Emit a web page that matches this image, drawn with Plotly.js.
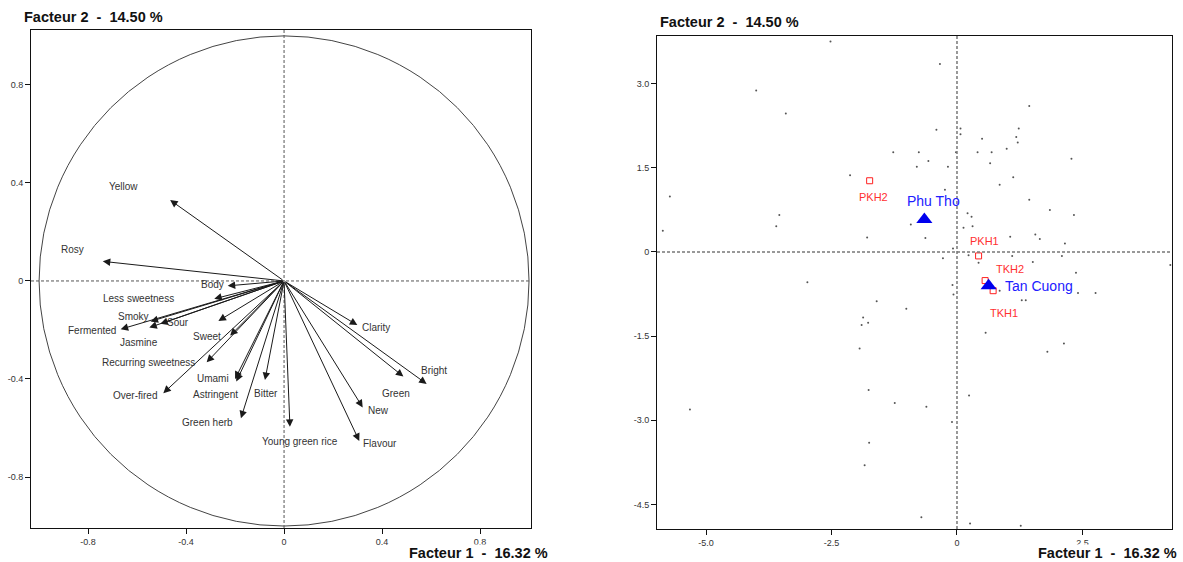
<!DOCTYPE html>
<html>
<head>
<meta charset="utf-8">
<script src="https://cdn.plot.ly/plotly-3.0.1.min.js"></script>
<style>html,body{margin:0;padding:0;background:#fff;}#chart{width:1183px;height:562px;}</style>
</head>
<body>
<div id="chart"></div>
<script>
// ---------- Data: variables circle (left) ----------
const varNames = ['Yellow','Rosy','Body','Less sweetness','Smoky','Sour','Fermented','Jasmine','','Sweet',
  'Recurring sweetness','Over-fired','Umami','Astringent','Bitter','Green herb','Young green rice',
  'Flavour','New','Green','Bright','Clarity'];
const varF1 = [-0.465,-0.74,-0.23,-0.285,-0.545,-0.505,-0.667,-0.55,-0.268,-0.22,
  -0.316,-0.493,-0.20,-0.195,-0.078,-0.176,0.024,
  0.307,0.321,0.487,0.582,0.299];
const varF2 = [0.33,0.08,-0.02,-0.073,-0.165,-0.175,-0.197,-0.19,-0.163,-0.223,
  -0.332,-0.458,-0.40,-0.41,-0.404,-0.56,-0.595,
  -0.653,-0.516,-0.39,-0.42,-0.18];

// ---------- Data: individuals (right) ----------
const obsF1 = [-2.52,-0.34,-4.00,-3.41,1.44,-0.41,0.07,0.07,1.23,0.50,1.18,1.21,0.99,-1.27,-0.76,-0.02,0.41,0.69,
  -0.57,-0.80,-0.18,0.66,2.28,-2.13,1.12,0.85,-0.24,-5.72,
  1.44,-3.54,-3.60,-5.86,-0.92,0.21,0.29,0.13,0.31,1.85,2.33,-1.79,-0.63,1.06,1.56,1.65,2.15,-0.08,-0.28,0.23,
  1.10,2.09,0.43,1.51,4.25,2.37,-2.98,-0.09,-0.07,0.85,2.41,2.76,1.29,1.37,-1.60,-1.01,-1.87,-1.90,-1.77,0.57,
  2.13,-1.94,1.80,
  -1.76,-1.24,-0.61,0.24,-5.32,-0.10,-1.75,-1.84,-0.71,0.26,1.27];
const obsF2 = [3.75,3.35,2.88,2.47,2.60,2.18,2.20,2.10,2.20,2.02,2.05,1.95,1.84,1.78,1.78,1.78,1.78,1.78,
  1.62,1.52,1.52,1.58,1.66,1.37,1.33,1.20,1.11,0.99,
  0.93,0.66,0.46,0.38,0.49,0.69,0.63,0.43,0.46,0.75,0.66,0.26,0.25,0.27,0.31,0.23,0.15,0.06,-0.11,-0.06,
  -0.07,-0.07,-0.19,-0.18,-0.23,-0.37,-0.54,-0.59,-0.76,-0.69,-0.73,-0.73,-0.86,-0.86,-0.88,-1.01,-1.17,-1.30,-1.26,-1.44,
  -1.63,-1.72,-1.78,
  -2.46,-2.69,-2.76,-2.56,-2.81,-3.03,-3.40,-3.80,-4.73,-4.84,-4.88];

// samples (red squares)
const sampleNames = ['PKH2','PKH1','TKH2','TKH1'];
const sampleF1 = [-1.74,0.43,0.56,0.72];
const sampleF2 = [1.27,-0.07,-0.51,-0.69];

// origins (blue triangles)
const originNames = ['Phu Tho','Tan Cuong'];
const originF1 = [-0.65,0.63];
const originF2 = [0.58,-0.60];

// tick labels
const leftXTicks = [-0.8,-0.4,0,0.4,0.8];
const leftXTickText = ['-0.8','-0.4','0','0.4','0.8'];
const leftYTicks = [0.8,0.4,0,-0.4,-0.8];
const leftYTickText = ['0.8','0.4','0','-0.4','-0.8'];
const rightXTicks = [-5.0,-2.5,0,2.5];
const rightXTickText = ['-5.0','-2.5','0','2.5'];
const rightYTicks = [3.0,1.5,0,-1.5,-3.0,-4.5];
const rightYTickText = ['3.0','1.5','0','-1.5','-3.0','-4.5'];

const axisTitleX = 'Facteur 1 \u00a0-\u00a0 16.32 %';
const axisTitleY = 'Facteur 2 \u00a0-\u00a0 14.50 %';

// ---------- Styling (label offsets in px: [dx, dy] screen) ----------
const varLabelOffset = {
  'Yellow':[-47,-14],'Rosy':[-30,-12],'Body':[-15,-1],'Less sweetness':[-76,0],'Smoky':[-17,-5],
  'Sour':[18,-1],'Fermented':[-29,1],'Jasmine':[-10,15],'Sweet':[-23,1],'Recurring sweetness':[-58,0],
  'Over-fired':[-28,2],'Umami':[-22,0],'Astringent':[-21,13],'Bitter':[1,14],'Green herb':[-33,4],
  'Young green rice':[10,15],'Flavour':[21,2],'New':[16,3],'Green':[-7,17],'Bright':[7,-13],'Clarity':[19,2]
};
const sampleLabelOffset = {'PKH2':[4,16],'PKH1':[6,-15],'TKH2':[25,-12],'TKH1':[11,22]};
const originLabelOffset = {'Phu Tho':[9,-18],'Tan Cuong':[50,0]};

const W = 1183, H = 562;
const FONT = 'Liberation Sans, Arial, sans-serif';

const annotations = [];
// arrows
for (let i = 0; i < varNames.length; i++) {
  annotations.push({
    xref:'x', yref:'y', axref:'x', ayref:'y',
    x: varF1[i], y: varF2[i], ax: 0, ay: 0,
    text:'', showarrow:true, arrowhead:2, arrowsize:1.5, arrowwidth:1,
    arrowcolor:'#1a1a1a', standoff:0, startstandoff:0
  });
  const off = varLabelOffset[varNames[i]];
  if (varNames[i] && off) {
    annotations.push({
      xref:'x', yref:'y', x: varF1[i], y: varF2[i], xshift: off[0], yshift: -off[1],
      text: varNames[i], showarrow:false, xanchor:'center', yanchor:'middle',
      font:{family:FONT, size:10, color:'#333'}
    });
  }
}
for (let i = 0; i < sampleNames.length; i++) {
  const off = sampleLabelOffset[sampleNames[i]];
  annotations.push({
    xref:'x2', yref:'y2', x: sampleF1[i], y: sampleF2[i], xshift: off[0], yshift: -off[1],
    text: sampleNames[i], showarrow:false, xanchor:'center', yanchor:'middle',
    font:{family:FONT, size:11, color:'#ff3030'}
  });
}
for (let i = 0; i < originNames.length; i++) {
  const off = originLabelOffset[originNames[i]];
  annotations.push({
    xref:'x2', yref:'y2', x: originF1[i], y: originF2[i], xshift: off[0], yshift: -off[1],
    text: originNames[i], showarrow:false, xanchor:'center', yanchor:'middle',
    font:{family:FONT, size:14, color:'#2020ff'}
  });
}
// axis titles
const titleFont = {family:FONT, size:14.5, color:'#111'};
annotations.push({xref:'paper', yref:'paper', x:22/W, y:1-17/H, xanchor:'left', yanchor:'middle',
  text:'<b>'+axisTitleY+'</b>', showarrow:false, font:titleFont});
annotations.push({xref:'paper', yref:'paper', x:658/W, y:1-22/H, xanchor:'left', yanchor:'middle',
  text:'<b>'+axisTitleY+'</b>', showarrow:false, font:titleFont});
annotations.push({xref:'paper', yref:'paper', x:549/W, y:1-553/H, xanchor:'right', yanchor:'middle',
  text:'<b>'+axisTitleX+'</b>', showarrow:false, font:titleFont, bgcolor:'#fff', borderpad:0});
annotations.push({xref:'paper', yref:'paper', x:1178/W, y:1-553/H, xanchor:'right', yanchor:'middle',
  text:'<b>'+axisTitleX+'</b>', showarrow:false, font:titleFont, bgcolor:'#fff', borderpad:0});

const shapes = [
  {type:'circle', xref:'x', yref:'y', x0:-1, x1:1, y0:-1, y1:1, line:{color:'#444', width:1}},
  {type:'line', xref:'x', yref:'y domain', x0:0, x1:0, y0:0, y1:1, line:{color:'#555', width:1, dash:'3px,2px'}},
  {type:'line', xref:'x domain', yref:'y', x0:0, x1:1, y0:0, y1:0, line:{color:'#555', width:1, dash:'3px,2px'}},
  {type:'line', xref:'x2', yref:'y2 domain', x0:0, x1:0, y0:0, y1:1, line:{color:'#777', width:1.5, dash:'3px,2px'}},
  {type:'line', xref:'x2 domain', yref:'y2', x0:0, x1:1, y0:0, y1:0, line:{color:'#777', width:1.5, dash:'3px,2px'}}
];

const tickFont = {family:FONT, size:9, color:'#333'};
const baseAxis = {showgrid:false, zeroline:false, showline:true, mirror:true, linecolor:'#111', linewidth:1,
  ticks:'outside', ticklen:5, tickcolor:'#111', tickwidth:1, tickfont:tickFont, tickmode:'array', fixedrange:true};

const traces = [
  {type:'scatter', mode:'markers', x:obsF1, y:obsF2, xaxis:'x2', yaxis:'y2',
   marker:{size:2, color:'#555'}, hoverinfo:'skip', showlegend:false},
  {type:'scatter', mode:'markers', x:sampleF1, y:sampleF2, xaxis:'x2', yaxis:'y2',
   marker:{symbol:'square-open', size:6, color:'#ff2020', line:{width:1}}, showlegend:false},
  {type:'scatter', mode:'markers', x:originF1, y:originF2, xaxis:'x2', yaxis:'y2',
   marker:{symbol:'triangle-up', size:14, color:'#0000ee'}, showlegend:false}
];

const layout = {
  width:W, height:H, margin:{l:0,r:0,t:0,b:0}, paper_bgcolor:'#fff', plot_bgcolor:'#fff',
  showlegend:false,
  xaxis: Object.assign({}, baseAxis, {domain:[31/W, 531/W], range:[-1.033,1.008], anchor:'y',
    tickvals:leftXTicks, ticktext:leftXTickText}),
  yaxis: Object.assign({}, baseAxis, {domain:[34/H, 532/H], range:[-1.008,1.024], anchor:'x',
    tickvals:leftYTicks, ticktext:leftYTickText}),
  xaxis2: Object.assign({}, baseAxis, {domain:[657/W, 1172/W], range:[-5.976,4.283], anchor:'y2',
    tickvals:rightXTicks, ticktext:rightXTickText}),
  yaxis2: Object.assign({}, baseAxis, {domain:[33/H, 526/H], range:[-4.938,3.850], anchor:'x2',
    tickvals:rightYTicks, ticktext:rightYTickText}),
  shapes: shapes,
  annotations: annotations
};

Plotly.newPlot('chart', traces, layout, {staticPlot:true, displayModeBar:false});
</script>
</body>
</html>
